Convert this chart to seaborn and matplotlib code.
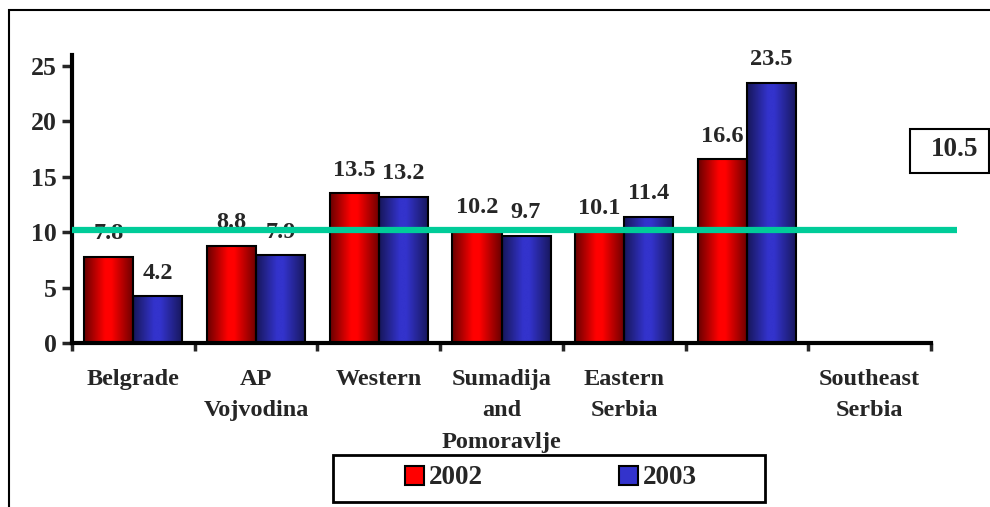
import numpy as np
import pandas as pd
import matplotlib
matplotlib.use("Agg")
import matplotlib.pyplot as plt
from matplotlib.patches import Rectangle, Patch
from matplotlib.colors import to_rgb
import seaborn as sns

# data
regions = ["Belgrade", "AP\nVojvodina", "Western", "Sumadija\nand\nPomoravlje",
           "Eastern\nSerbia", " ", "Southeast\nSerbia"]
values_2002 = [7.8, 8.8, 13.5, 10.2, 10.1, 16.6]
values_2003 = [4.2, 7.9, 13.2, 9.7, 11.4, 23.5]
years = ["2002", "2003"]
avg_level = 10.2
avg_label = "10.5"

bar_colors = {"2002": "#FF0000", "2003": "#3333CC"}
dark_colors = {"2002": "#6A0000", "2003": "#17175A"}


def shade_bar(ax, bar, dark, light):
    # horizontal gradient: dark edges, bright middle
    x0, y0 = bar.get_x(), bar.get_y()
    w, h = bar.get_width(), bar.get_height()
    t = np.linspace(0, 1, 80)
    k = np.clip(np.minimum(t / 0.42, (1 - t) / 0.45), 0, 1)
    d, l = np.array(to_rgb(dark)), np.array(to_rgb(light))
    img = (d + (l - d) * k[:, None])[None, :, :]
    im = ax.imshow(img, extent=[x0, x0 + w, y0, y0 + h], aspect="auto",
                   interpolation="bilinear", zorder=1)
    im.set_clip_path(bar)
    bar.set_facecolor("none")
    bar.set_zorder(2)


def main():
    rows = []
    for r, a, b in zip(regions, values_2002, values_2003):
        rows.append({"region": r, "year": "2002", "value": a})
        rows.append({"region": r, "year": "2003", "value": b})
    df = pd.DataFrame(rows)

    sns.set_style("white")
    plt.rcParams["font.family"] = ["Liberation Serif", "DejaVu Serif"]
    plt.rcParams["font.weight"] = "bold"

    fig = plt.figure(figsize=(9.9, 5.07), dpi=100)
    ax = fig.add_axes([72 / 990, 1 - 343 / 507, (931 - 72) / 990, (343 - 55) / 507])

    sns.barplot(data=df, x="region", y="value", hue="year", order=regions,
                hue_order=years, palette=bar_colors, width=0.8,
                edgecolor="black", linewidth=1.5, legend=False, ax=ax)

    for year, cont in zip(years, ax.containers):
        for bar in cont:
            shade_bar(ax, bar, dark_colors[year], bar_colors[year])
        ax.bar_label(cont, fmt="%.1f", padding=9, fontsize=17.5, fontweight="bold", zorder=3)

    # average line
    ax.plot([-0.5, 6.71], [avg_level, avg_level], color="#00CC99", lw=4.5,
            zorder=4, clip_on=False, solid_capstyle="butt")

    ax.set_xlim(-0.5, 6.5)
    ax.set_ylim(0, 26)
    ax.set_yticks([0, 5, 10, 15, 20, 25])
    ax.set_xticks(np.arange(-0.5, 7, 1))
    ax.set_xticklabels([])
    ax.set_xticks(range(len(regions)), minor=True)
    ax.set_xticklabels(regions, minor=True, fontsize=17.5, fontweight="bold", linespacing=1.63)
    ax.tick_params(axis="x", which="minor", length=0, pad=19)
    ax.tick_params(axis="x", which="major", length=6, width=2.5, direction="out", bottom=True)
    ax.tick_params(axis="y", length=7, width=2.5, direction="out", left=True, labelsize=18.5, pad=4)
    ax.set_xlabel("")
    ax.set_ylabel("")
    for s in ["top", "right"]:
        ax.spines[s].set_visible(False)
    for s in ["left", "bottom"]:
        ax.spines[s].set_linewidth(3)
        ax.spines[s].set_color("black")

    # boxed average value
    fig.add_artist(Rectangle((910 / 990, 1 - 173 / 507), 79 / 990, 44 / 507,
                             transform=fig.transFigure, fill=False, lw=1.5, ec="black"))
    fig.text(955 / 990, 1 - 150 / 507, avg_label, ha="center", va="center",
             fontsize=19.5, fontweight="bold")

    # legend
    handles = [Patch(facecolor=bar_colors[y], edgecolor="black", lw=1.5, label=y) for y in years]
    fig.legend(handles=handles, loc="center", bbox_to_anchor=(551 / 990, 1 - 478 / 507),
               ncol=2, frameon=False, fontsize=19.5, handlelength=0.7, handleheight=0.7,
               handletextpad=0.2, columnspacing=5.0)
    fig.add_artist(Rectangle((333 / 990, 1 - 502 / 507), 432 / 990, 47 / 507,
                             transform=fig.transFigure, fill=False, lw=2, ec="black"))

    # outer frame (cut off on the right and bottom)
    fig.add_artist(Rectangle((9 / 990, -0.1), 1.2, 1.1 - 10 / 507,
                             transform=fig.transFigure, fill=False, lw=1.5, ec="black"))

    fig.savefig("out.png", dpi=100)


if __name__ == "__main__":
    main()
